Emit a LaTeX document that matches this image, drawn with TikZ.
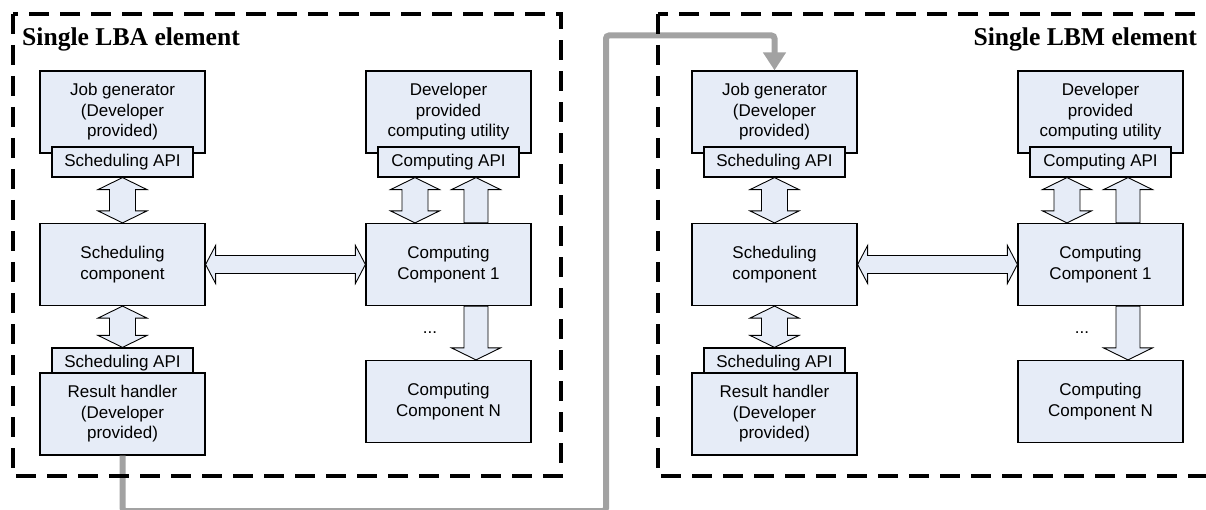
\documentclass[tikz,border=0pt]{standalone}
\usepackage{fontspec}
\setmainfont{Liberation Serif}
\newfontfamily\arialfont{Liberation Sans}
\usetikzlibrary{calc,arrows.meta}

\definecolor{boxfill}{RGB}{230,236,247}
\definecolor{feedgray}{RGB}{162,162,162}

\tikzset{
  box/.style={draw=black, fill=boxfill, line width=1.2pt, minimum width=165pt,
    minimum height=82pt, inner sep=0pt, align=center,
    font=\arialfont\fontsize{17}{20.5}\selectfont},
  tab/.style={draw=black, fill=boxfill, line width=1.2pt, minimum width=141pt,
    minimum height=30pt, inner sep=0pt, align=center,
    font=\arialfont\fontsize{17}{20.5}\selectfont},
  dotlabel/.style={inner sep=0pt, anchor=base, font=\arialfont\fontsize{17}{20.5}\selectfont},
  title/.style={inner sep=0pt, font=\bfseries\fontsize{25.6}{30}\selectfont},
  blockarrow/.style={draw=black, fill=boxfill, line width=0.9pt, line join=miter},
  frame/.style={draw=black, line width=3.5pt, dash pattern=on 20pt off 11pt},
  feed/.style={draw=feedgray, line width=6pt, rounded corners=3pt,
    -{Triangle[width=22pt,length=18pt]}},
}

% vertical double-headed block arrow: #1 upper tip, #2 lower tip
\newcommand\vdouble[2]{\draw[blockarrow] let \p1=#1, \p2=#2 in
  (\x1,\y1) -- (\x1+24.5pt,\y1-12pt) -- (\x1+13pt,\y1-12pt) -- (\x1+13pt,\y2+12pt)
  -- (\x1+24.5pt,\y2+12pt) -- (\x1,\y2) -- (\x1-24.5pt,\y2+12pt) -- (\x1-13pt,\y2+12pt)
  -- (\x1-13pt,\y1-12pt) -- (\x1-24.5pt,\y1-12pt) -- cycle;}
% upward block arrow: #1 tip, #2 tail
\newcommand\vup[2]{\draw[blockarrow] let \p1=#1, \p2=#2 in
  (\x1,\y1) -- (\x1+24.5pt,\y1-12pt) -- (\x1+12pt,\y1-12pt) -- (\x1+12pt,\y2)
  -- (\x1-12pt,\y2) -- (\x1-12pt,\y1-12pt) -- (\x1-24.5pt,\y1-12pt) -- cycle;}
% downward block arrow: #1 tail, #2 tip
\newcommand\vdown[2]{\draw[blockarrow] let \p1=#1, \p2=#2 in
  (\x1-12pt,\y1) -- (\x1+12pt,\y1) -- (\x1+12pt,\y2+12pt) -- (\x1+24.5pt,\y2+12pt)
  -- (\x1,\y2) -- (\x1-24.5pt,\y2+12pt) -- (\x1-12pt,\y2+12pt) -- cycle;}
% horizontal double-headed block arrow: #1 left tip, #2 right tip
\newcommand\hdouble[2]{\draw[blockarrow] let \p1=#1, \p2=#2 in
  (\x1,\y1) -- (\x1+10pt,\y1+19pt) -- (\x1+10pt,\y1+9pt) -- (\x2-10pt,\y1+9pt)
  -- (\x2-10pt,\y1+19pt) -- (\x2,\y1) -- (\x2-10pt,\y1-19pt) -- (\x2-10pt,\y1-9pt)
  -- (\x1+10pt,\y1-9pt) -- (\x1+10pt,\y1-19pt) -- cycle;}

% one load-balancing element: #1 name prefix, #2 horizontal offset
\newcommand\lbelement[2]{%
  \begin{scope}[xshift=#2]
    \node[box] (#1jg) at (122.5,112) {Job generator\\(Developer\\provided)};
    \node[tab] (#1jgapi) at (122.5,162) {Scheduling API};
    \node[box] (#1sc) at (122.5,264.5) {Scheduling\\component};
    \node[tab] (#1rhapi) at (122.5,363) {Scheduling API};
    \node[box] (#1rh) at (122.5,414) {Result handler\\(Developer\\provided)};
    \node[box] (#1cu) at (448.5,112) {Developer\\provided\\computing utility};
    \node[tab] (#1cuapi) at (448.5,162) {Computing API};
    \node[box] (#1cc1) at (448.5,264.5) {Computing\\Component 1};
    \node[box] (#1ccn) at (448.5,401.5) {Computing\\Component N};
    \node[dotlabel] (#1dots) at (430,333) {...};
  \end{scope}
  \vdouble{(#1jgapi.south)}{(#1sc.north)}
  \vdouble{(#1sc.south)}{(#1rhapi.north)}
  \hdouble{(#1sc.east)}{(#1cc1.west)}
  \vdouble{($(#1cuapi.south)+(-33.5,0)$)}{(#1cc1.north)}
  \vup{($(#1cuapi.south)+(27.5,0)$)}{(#1cc1.north)}
  \vdown{($(#1cc1.south)+(27.5,0)$)}{(#1ccn.north)}
}

\begin{document}
\begin{tikzpicture}[x=1pt, y=-1pt]
  \useasboundingbox (0,0) rectangle (1206,510);
  \clip (0,0) rectangle (1206,510);

  \lbelement{L}{0}
  \lbelement{R}{652}

  % result feed from the LBA element to the LBM element
  \coordinate (feedlow) at (606,511);
  \coordinate (feedhigh) at (606,35.5);
  \draw[feed] (Lrh.south) |- (feedlow) -- (feedhigh) -| (Rjg.north);

  % element borders
  \draw[frame] (13,14) rectangle (561,476);
  \draw[frame] (658,14) rectangle (1208.5,476);

  \node[title, anchor=base west] (lbatitle) at (22,46) {Single LBA element};
  \node[title, anchor=base east] (lbmtitle) at (1197,46) {Single LBM element};
\end{tikzpicture}
\end{document}
